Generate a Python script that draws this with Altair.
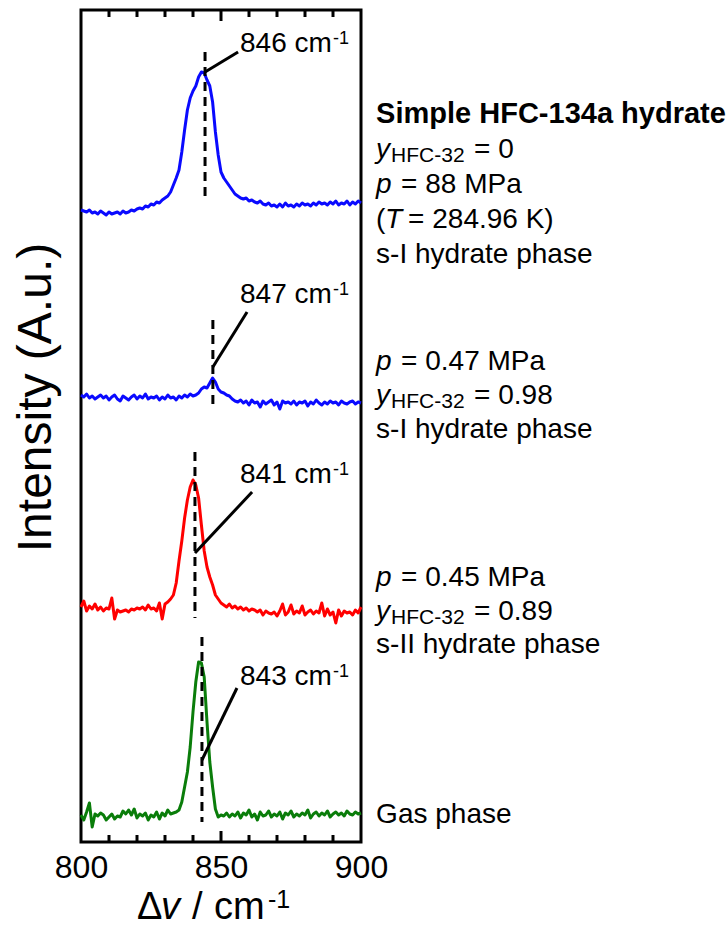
import altair as alt
import pandas as pd

FONT = "Liberation Sans"

# ---------------- data ----------------
wavenumber = list(range(800, 901))

# intensity above each trace's own baseline (a.u.)
blue_top = [0, -1, -2, 0, -3, -2, -4, -1, -3, -5,
            -2, -4, -3, -2, -4, -1, -3, -2, 0, -1,
            1, 2, 1, 4, 3, 6, 5, 8, 7, 10,
            12, 14, 18, 25, 32, 40, 58, 80, 100, 112,
            119, 124, 133, 138, 137, 130, 124, 108, 78, 55,
            38, 32, 28, 24, 20, 16, 14, 12, 11, 12,
            9, 10, 8, 7, 9, 6, 5, 7, 4, 5,
            3, 6, 3, 7, 4, 5, 3, 6, 4, 7,
            5, 6, 4, 7, 5, 8, 6, 7, 5, 8,
            6, 9, 5, 7, 6, 9, 5, 8, 6, 9,
            7]
blue_mid = [2, 0, 3, -1, 1, -2, 0, 2, -1, 1,
            -3, 0, 2, -2, -4, 1, -1, -3, 0, 2,
            -2, 1, -1, 3, -2, 0, -1, 1, -3, 0,
            -2, 2, -1, 0, -3, 1, -1, 2, 0, 3,
            1, 2, 4, 8, 10, 9, 14, 19, 15, 8,
            5, 4, 2, 1, -2, -4, -5, -3, -6, -4,
            -8, -3, -6, -5, -10, -4, -7, -5, -3, -8,
            -5, -12, -4, -6, -5, -7, -4, -8, -5, -6,
            -4, -9, -5, -7, -3, -6, -8, -5, -7, -4,
            -6, -5, -8, -4, -6, -7, -5, -4, -7, -5,
            -6]
red_sii = [6, 12, 2, 7, 4, 9, 3, 6, 2, 5,
           4, 15, -6, 3, 1, 2, 3, 1, 4, 3,
           5, 4, 6, 3, 8, 4, 5, 2, 10, -6,
           9, 11, 14, 18, 30, 52, 72, 95, 113, 126,
           133, 128, 115, 88, 62, 46, 36, 28, 18, 14,
           10, 8, 6, 9, 5, 7, 4, 6, 3, 5,
           2, 4, 3, 1, 3, -2, 2, 0, -1, 1,
           -3, 2, 9, -2, 1, 8, -1, 2, 0, 7,
           -2, 1, 3, -1, 2, 0, 10, -3, 4, -2,
           1, -10, 3, -3, 2, 0, 1, -2, 3, 0,
           6]
green_gas = [2, -3, 5, 14, -10, 3, 1, 4, 2, -3,
             0, 3, -2, 1, 0, 6, 3, 7, 2, 8,
             -1, 3, 1, 4, -3, 2, 0, 5, -2, 4,
             1, 7, 3, 4, 5, 7, 15, 30, 45, 70,
             105, 135, 155, 154, 140, 95, 55, 30, 8, 0,
             2, 1, 4, 0, 3, 1, 5, -1, 4, 2,
             7, 0, 3, -3, 5, 1, 2, 6, 0, 3,
             1, 5, -2, 4, 2, 6, 0, 3, 1, 4,
             2, 7, -1, 3, 5, 1, 4, 2, 6, 0,
             3, 5, 2, 4, 1, 6, 3, 2, 5, 3,
             4]

series_names = ["HFC-134a s-I", "y=0.98 s-I", "y=0.89 s-II", "Gas"]
series_colors = ["#0a0aff", "#0a0aff", "#ff0000", "#0a7d0a"]
series_offsets = [632, 445, 229, 25]

# peak markers
peak_shift = [844.3, 847.1, 840.7, 843.2]
dash_top = [790, 522, 390, 205]
dash_bottom = [645, 434, 224, 20]
leader_start_y = [770, 475, 289, 82]
leader_end_x = [856.1, 859.3, 861.1, 855.7]
leader_end_y = [790, 530, 350, 154]
peak_labels = ["846 cm", "847 cm", "841 cm", "843 cm"]
peak_label_x = 856.8
peak_label_y = [790, 539, 359, 157]

# right-hand annotations
ann_x = 905.4
title_line = ["Simple HFC-134a hydrate"]
title_y = [719]
phase_lines = ["s-I hydrate phase", "s-I hydrate phase", "s-II hydrate phase", "Gas phase"]
phase_y = [579, 404, 189, 19]
yfrac_values = ["= 0", "= 0.98", "= 0.89"]
yfrac_y = [684, 438, 222]
pressure_values = ["= 88 MPa", "= 0.47 MPa", "= 0.45 MPa"]
pressure_y = [649, 472, 256]
temperature_values = ["= 284.96 K)"]
temperature_y = [614]

tick_minor = [810, 820, 830, 840, 860, 870, 880, 890]
tick_major = [850]
tick_labels = [800, 850, 900]

# ---------------- build tables ----------------
rows = []
for name, vals, off in zip(series_names, [blue_top, blue_mid, red_sii, green_gas], series_offsets):
    for w, v in zip(wavenumber, vals):
        rows.append({"wavenumber": w, "intensity": off + v, "series": name})
spectra = pd.DataFrame(rows)

x_scale = alt.Scale(domain=[800, 900], nice=False, zero=False)
y_scale = alt.Scale(domain=[0, 832], nice=False, zero=False)
x_axis = alt.Axis(values=tick_labels, labelFontSize=32, labelFlush=False, ticks=False, tickSize=0,
                  domain=False, grid=False, labelPadding=35, labelBaseline="alphabetic",
                  title="", labelColor="black", labelFont=FONT)
y_axis = alt.Axis(title="Intensity (A.u.)", labels=False, ticks=False, domain=False, grid=False,
                  titleFontSize=48, titleFontWeight="normal", titleFont=FONT, titleColor="black",
                  titleAngle=270, titleX=-31, titleY=387, titleAlign="center",
                  titleBaseline="alphabetic")


def X(field="wavenumber"):
    return alt.X(f"{field}:Q", scale=x_scale, axis=x_axis)


def Y(field="intensity"):
    return alt.Y(f"{field}:Q", scale=y_scale, axis=y_axis)


lines = alt.Chart(spectra).mark_line(strokeWidth=3, strokeJoin="round").encode(
    x=X(), y=Y(),
    color=alt.Color("series:N", scale=alt.Scale(domain=series_names, range=series_colors), legend=None),
    detail="series:N",
)

dash_df = pd.DataFrame({"wavenumber": peak_shift, "intensity": dash_top, "intensity2": dash_bottom})
dashes = alt.Chart(dash_df).mark_rule(color="black", strokeWidth=3, strokeDash=[9, 6]).encode(
    x=X(), y=Y(), y2=alt.Y2("intensity2:Q"))

leader_df = pd.DataFrame({"wavenumber": peak_shift, "intensity": leader_start_y,
                          "wavenumber2": leader_end_x, "intensity2": leader_end_y})
leaders = alt.Chart(leader_df).mark_rule(color="black", strokeWidth=3).encode(
    x=X(), y=Y(), x2=alt.X2("wavenumber2:Q"), y2=alt.Y2("intensity2:Q"))

minor_df = pd.DataFrame({"wavenumber": tick_minor})
major_df = pd.DataFrame({"wavenumber": tick_major})
tick_layers = [
    alt.Chart(minor_df).mark_rule(color="black", strokeWidth=3).encode(x=X(), y=alt.value(0), y2=alt.value(7)),
    alt.Chart(minor_df).mark_rule(color="black", strokeWidth=3).encode(x=X(), y=alt.value(832), y2=alt.value(825)),
    alt.Chart(major_df).mark_rule(color="black", strokeWidth=3).encode(x=X(), y=alt.value(0), y2=alt.value(11)),
    alt.Chart(major_df).mark_rule(color="black", strokeWidth=3).encode(x=X(), y=alt.value(832), y2=alt.value(821)),
]


def text_layer(texts, ys, xval, dx=0, dy=0, size=28, style="normal", weight="normal"):
    df = pd.DataFrame({"wavenumber": [xval] * len(texts), "intensity": ys, "label": texts})
    return alt.Chart(df).mark_text(
        align="left", baseline="alphabetic", dx=dx, dy=dy, fontSize=size,
        fontStyle=style, fontWeight=weight, font=FONT, color="black",
    ).encode(x=X(), y=Y(), text="label:N")


texts = [
    # peak labels
    text_layer(peak_labels, peak_label_y, peak_label_x),
    text_layer(["-1"] * 4, peak_label_y, peak_label_x, dx=93, dy=-8, size=18),
    # annotations
    text_layer(title_line, title_y, ann_x, size=29, weight="bold"),
    text_layer(phase_lines, phase_y, ann_x),
    text_layer(["y"] * 3, yfrac_y, ann_x, style="italic"),
    text_layer(["HFC-32"] * 3, yfrac_y, ann_x, dx=15, dy=4, size=21),
    text_layer(yfrac_values, yfrac_y, ann_x, dx=98),
    text_layer(["p"] * 3, pressure_y, ann_x, style="italic"),
    text_layer(pressure_values, pressure_y, ann_x, dx=25),
    text_layer(["("], temperature_y, ann_x),
    text_layer(["T"], temperature_y, ann_x, dx=9, style="italic"),
    text_layer(temperature_values, temperature_y, ann_x, dx=32),
    # x-axis title  "Δv / cm-1"
    text_layer(["\u0394"], [-77], 820, size=38),
    text_layer(["v"], [-77], 820, dx=24, size=38, style="italic"),
    text_layer(["/"], [-77], 820, dx=55, size=38),
    text_layer(["cm"], [-77], 820, dx=77, size=38),
    text_layer(["-1"], [-77], 820, dx=131, dy=-11, size=25),
]

chart = alt.layer(lines, dashes, leaders, *tick_layers, *texts).properties(
    width=280, height=832,
    autosize=alt.AutoSizeParams(type="none"),
    padding={"left": 81, "top": 10, "right": 365, "bottom": 86},
    background="white",
).configure(font=FONT).configure_view(stroke="black", strokeWidth=3)

chart.save("out.html", embed_options={"renderer": "svg", "actions": False})
